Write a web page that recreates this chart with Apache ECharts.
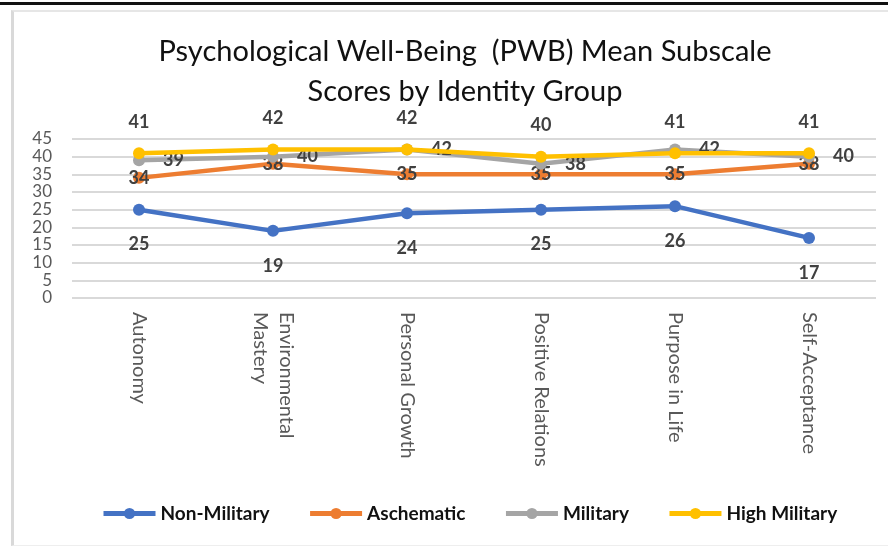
<!DOCTYPE html>
<html>
<head>
<meta charset="utf-8">
<script src="https://cdn.jsdelivr.net/npm/echarts@6/dist/echarts.min.js"></script>
<style>
  html, body { margin: 0; padding: 0; background: #fff; }
  #topline { position: absolute; left: 0; top: 2px; width: 888px; height: 3px; background: #111; }
  #frame { position: absolute; left: 11px; top: 10px; width: 880px; height: 533px; border-left: 3px solid #d9d9d9; border-top: 2px solid #e6e6e6; border-bottom: 1px solid #eee; }
  #chart { position: absolute; left: 0; top: 0; width: 888px; height: 546px; }
</style>
</head>
<body>
<div id="topline"></div>
<div id="frame"></div>
<div id="chart"></div>
<script>
// subscales on the x axis
var subscales = ['Autonomy', 'Environmental\nMastery', 'Personal Growth', 'Positive Relations', 'Purpose in Life', 'Self-Acceptance'];

// mean scores per identity group
var nonMilitary = [25, 19, 24, 25, 26, 17];
var aschematic = [34, 38, 35, 35, 35, 38];
var military = [39, 40, 42, 38, 42, 40];
var highMilitary = [41, 42, 42, 40, 41, 41];

var font = 'Lato, "Open Sans", sans-serif';

var myChart = echarts.init(document.getElementById('chart'));

var labelDist = { bottom: 20, top: 16, right: 18, inside: 0 };

function lineSeries(name, data, color, labelPos, z) {
  return {
    name: name,
    type: 'line',
    data: data,
    z: z,
    symbol: 'circle',
    symbolSize: 12,
    lineStyle: { width: 4.5, color: color },
    itemStyle: { color: color },
    label: {
      show: true,
      position: labelPos,
      distance: labelDist[labelPos],
      color: '#404040',
      fontWeight: 'bold',
      fontSize: 18,
      fontFamily: font
    },
    emphasis: { disabled: true }
  };
}

var option = {
  animation: false,
  title: {
    text: 'Psychological Well-Being  (PWB) Mean Subscale\nScores by Identity Group',
    left: 460,
    textAlign: 'center',
    top: 27,
    textStyle: { fontSize: 29, fontWeight: 'normal', color: '#111', lineHeight: 40, fontFamily: font }
  },
  grid: { left: 72, right: 12, top: 139, bottom: 248 },
  legend: {
    bottom: 18,
    left: 96,
    itemWidth: 52,
    itemHeight: 14,
    itemGap: 38,
    lineStyle: { width: 5 },
    textStyle: { fontSize: 19, fontWeight: 'bold', color: '#111', fontFamily: font },
    data: ['Non-Military', 'Aschematic', 'Military', 'High Military']
  },
  xAxis: {
    type: 'category',
    data: subscales,
    axisLine: { show: false },
    axisTick: { show: false },
    axisLabel: { rotate: -90, margin: 14, color: '#595959', fontSize: 20, fontFamily: font, interval: 0, lineHeight: 26 }
  },
  yAxis: {
    type: 'value',
    min: 0,
    max: 45,
    interval: 5,
    axisLabel: {
      color: '#595959', fontSize: 17, fontFamily: font, interval: 0,
      margin: 20, showMinLabel: true, showMaxLabel: true, hideOverlap: false
    },
    splitLine: { lineStyle: { color: '#d9d9d9', width: 2 } }
  },
  series: [
    lineSeries('Non-Military', nonMilitary, '#4472C4', 'bottom', 2),
    lineSeries('Aschematic', aschematic, '#ED7D31', 'inside', 3),
    lineSeries('Military', military, '#A5A5A5', 'right', 4),
    lineSeries('High Military', highMilitary, '#FFC000', 'top', 5)
  ]
};

myChart.setOption(option);
</script>
</body>
</html>
